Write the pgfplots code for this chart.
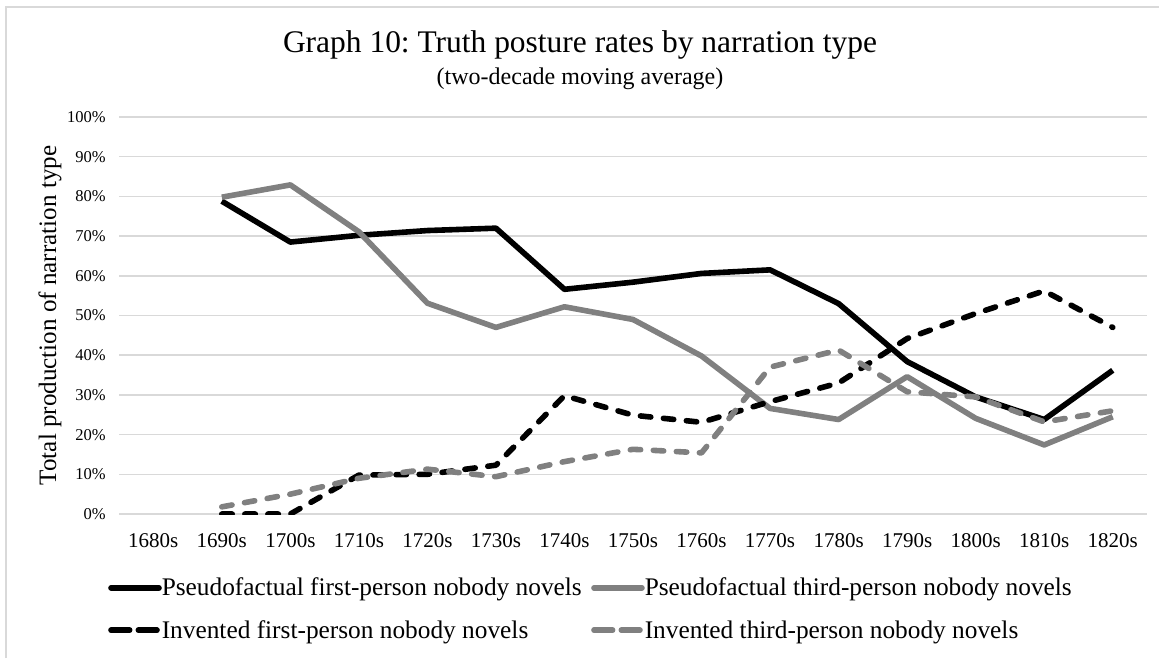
\documentclass[border=0pt]{standalone}
\usepackage{pgfplots}
\pgfplotsset{compat=1.18}
\usepackage{fontspec}
\setmainfont{Liberation Serif}
\frenchspacing
\definecolor{gr}{HTML}{808080}
\definecolor{gridc}{HTML}{D9D9D9}
\pgfplotsset{
  legsolid/.style={legend image code/.code={\draw[##1, line cap=round] (0pt,0pt) -- (36pt,0pt);}},
  legdash/.style={legend image code/.code={\draw[##1, solid] (0pt,0pt) -- (14pt,0pt); \draw[##1, solid] (20.5pt,0pt) -- (34.5pt,0pt);}},
}
\begin{document}
\begin{tikzpicture}[x=0.75pt,y=-0.75pt]
\useasboundingbox (0,0) rectangle (1159,658);
\draw[gridc, line width=1.5pt] (5.5,658) -- (5.5,7) -- (1159,7);
\node[font=\fontsize{23.6}{28}\selectfont] at (580,45) {Graph 10: Truth posture rates by narration type};
\node[font=\fontsize{18}{22}\selectfont] at (580,79) {(two-decade moving average)};
\begin{axis}[
  at={(89.25pt,-385.5pt)}, anchor=south west,
  scale only axis, width=771pt, height=297.75pt,
  xmin=-0.5, xmax=14.5, ymin=0, ymax=100,
  xtick={0,...,14},
  xticklabels={1680s,1690s,1700s,1710s,1720s,1730s,1740s,1750s,1760s,1770s,1780s,1790s,1800s,1810s,1820s},
  ytick={0,10,...,100},
  yticklabels={0\%,10\%,20\%,30\%,40\%,50\%,60\%,70\%,80\%,90\%,100\%},
  axis line style={draw=none},
  major tick length=0pt,
  ymajorgrids, grid style={gridc, line width=1.1pt},
  xticklabel style={font=\fontsize{15.75}{18}\selectfont, anchor=north, inner sep=0pt, yshift=-14.25pt},
  yticklabel style={font=\fontsize{12.4}{14}\selectfont, anchor=east, inner sep=0pt, xshift=-9.75pt},
  ylabel={Total production of narration type},
  ylabel style={font=\fontsize{18.8}{22}\selectfont, at={(axis description cs:-0.0671,0.5)}, anchor=center},
  legend columns=2,
  legend cell align=left,
  legend style={draw=none, fill=none, inner sep=0pt, outer sep=0pt,
    at={(-0.0105,-0.161)}, anchor=north west,
    font=\fontsize{19}{22}\selectfont,
    nodes={inner sep=0pt},
    row sep=16.9pt,
    /tikz/every odd column/.append style={column sep=0pt},
    /tikz/every even column/.append style={column sep=7pt}},
]
\addplot[black, line width=4.2pt, line join=round, legsolid]
  coordinates {(1,78.8) (2,68.5) (3,70.2) (4,71.4) (5,72.0) (6,56.6) (7,58.4) (8,60.6) (9,61.5) (10,53.0) (11,38.4) (12,29.5) (13,23.8) (14,36.2)};
\addplot[gr, line width=4.2pt, line join=round, legsolid]
  coordinates {(1,79.8) (2,82.9) (3,71.1) (4,53.1) (5,47.0) (6,52.2) (7,49.0) (8,39.8) (9,26.6) (10,23.8) (11,34.6) (12,24.1) (13,17.4) (14,24.5)};
\addplot[black, line width=4.2pt, line join=round, line cap=round, dash pattern=on 7.8pt off 9.5pt, legdash]
  coordinates {(1,0) (2,0) (3,9.8) (4,10.0) (5,12.3) (6,29.8) (7,24.9) (8,23.1) (9,28.3) (10,33.0) (11,44.2) (12,50.5) (13,56.2) (14,47.0)};
\addplot[gr, line width=4.2pt, line join=round, line cap=round, dash pattern=on 7.8pt off 9.5pt, legdash]
  coordinates {(1,1.8) (2,5.0) (3,9.0) (4,11.3) (5,9.4) (6,13.2) (7,16.3) (8,15.4) (9,37.0) (10,41.3) (11,30.8) (12,29.5) (13,23.2) (14,26.0)};
\legend{Pseudofactual first-person nobody novels, Pseudofactual third-person nobody novels, Invented first-person nobody novels, Invented third-person nobody novels}
\end{axis}
\end{tikzpicture}
\end{document}
